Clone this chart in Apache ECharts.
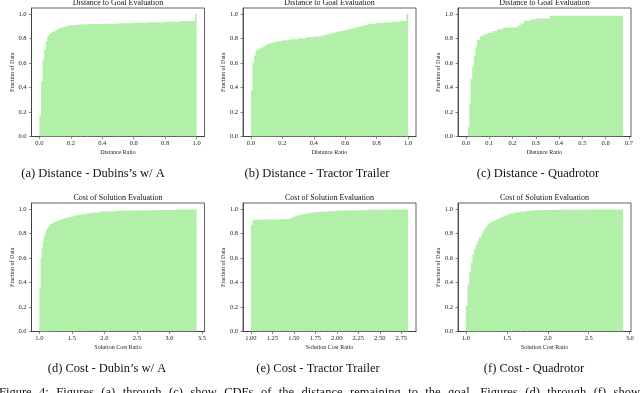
<!DOCTYPE html>
<html>
<head>
<meta charset="utf-8">
<script src="https://cdn.jsdelivr.net/npm/echarts@6/dist/echarts.min.js"></script>
<style>
html, body { margin: 0; padding: 0; background: #fff; }
#chart { width: 640px; height: 393px; }
</style>
</head>
<body>
<div id="chart"></div>
<script>
// bin edges (one more than values) and cumulative fraction per bin
const distDubinsX = [0.00, 0.01, 0.02, 0.03, 0.04, 0.05, 0.06, 0.07, 0.08, 0.09, 0.10, 0.11, 0.12, 0.13, 0.14, 0.155, 0.17, 0.185, 0.20, 0.23, 0.26, 0.30, 0.40, 0.50, 0.60, 0.70, 0.80, 0.90, 0.989, 1.00]
const distDubinsY = [0.17, 0.45, 0.63, 0.71, 0.78, 0.82, 0.835, 0.845, 0.853, 0.86, 0.867, 0.874, 0.88, 0.886, 0.891, 0.897, 0.902, 0.906, 0.91, 0.913, 0.916, 0.919, 0.922, 0.925, 0.929, 0.933, 0.938, 0.944, 1.0]

const distTractorX = [0.00, 0.01, 0.02, 0.03, 0.04, 0.05, 0.065, 0.08, 0.095, 0.11, 0.13, 0.15, 0.175, 0.20, 0.25, 0.30, 0.35, 0.40, 0.45, 0.475, 0.50, 0.525, 0.55, 0.575, 0.60, 0.625, 0.65, 0.675, 0.70, 0.725, 0.75, 0.80, 0.85, 0.90, 0.95, 0.989, 1.00]
const distTractorY = [0.38, 0.60, 0.66, 0.70, 0.71, 0.72, 0.73, 0.74, 0.75, 0.76, 0.768, 0.775, 0.78, 0.787, 0.795, 0.803, 0.81, 0.818, 0.826, 0.833, 0.841, 0.849, 0.857, 0.865, 0.873, 0.881, 0.889, 0.897, 0.905, 0.913, 0.921, 0.928, 0.933, 0.938, 0.944, 1.0]

const distQuadX = [0.008, 0.015, 0.02, 0.027, 0.034, 0.041, 0.048, 0.06, 0.075, 0.095, 0.115, 0.135, 0.16, 0.19, 0.22, 0.235, 0.25, 0.28, 0.30, 0.36, 0.675]
const distQuadY = [0.076, 0.27, 0.47, 0.57, 0.66, 0.73, 0.79, 0.82, 0.836, 0.847, 0.863, 0.877, 0.888, 0.89, 0.904, 0.925, 0.945, 0.958, 0.965, 0.986]

const costDubinsX = [1.00, 1.02, 1.035, 1.05, 1.065, 1.08, 1.10, 1.12, 1.145, 1.17, 1.20, 1.24, 1.28, 1.32, 1.37, 1.42, 1.48, 1.53, 1.58, 1.65, 1.73, 1.82, 1.93, 2.05, 2.19, 2.35, 2.55, 2.80, 3.10, 3.42]
const costDubinsY = [0.357, 0.60, 0.68, 0.73, 0.77, 0.80, 0.83, 0.85, 0.865, 0.88, 0.89, 0.90, 0.91, 0.917, 0.925, 0.933, 0.94, 0.947, 0.952, 0.96, 0.966, 0.973, 0.98, 0.983, 0.986, 0.988, 0.99, 0.993, 0.997]

const costTractorX = [1.00, 1.02, 1.10, 1.20, 1.30, 1.40, 1.44, 1.47, 1.50, 1.53, 1.56, 1.60, 1.64, 1.68, 1.73, 1.78, 1.84, 1.90, 2.00, 2.15, 2.35, 2.60, 2.83]
const costTractorY = [0.873, 0.914, 0.915, 0.916, 0.917, 0.919, 0.924, 0.932, 0.94, 0.948, 0.955, 0.961, 0.966, 0.97, 0.974, 0.978, 0.981, 0.985, 0.988, 0.991, 0.994, 0.997]

const costQuadX = [1.00, 1.02, 1.04, 1.06, 1.08, 1.10, 1.12, 1.14, 1.16, 1.19, 1.21, 1.23, 1.25, 1.27, 1.29, 1.32, 1.35, 1.38, 1.42, 1.46, 1.50, 1.54, 1.60, 1.66, 1.74, 1.82, 1.94, 2.08, 2.50, 2.92]
const costQuadY = [0.212, 0.384, 0.484, 0.566, 0.629, 0.675, 0.71, 0.74, 0.77, 0.80, 0.825, 0.845, 0.865, 0.88, 0.89, 0.90, 0.912, 0.922, 0.935, 0.947, 0.957, 0.966, 0.974, 0.98, 0.986, 0.99, 0.992, 0.994, 0.997]

// tick labels
const fracTicks = [0, 0.2, 0.4, 0.6, 0.8, 1.0]
const distTicks = [0, 0.2, 0.4, 0.6, 0.8, 1.0]
const distQuadTicks = [0, 0.1, 0.2, 0.3, 0.4, 0.5, 0.6, 0.7]
const costDubinsTicks = [1.0, 1.5, 2.0, 2.5, 3.0, 3.5]
const costTractorTicks = [1.00, 1.25, 1.50, 1.75, 2.00, 2.25, 2.50, 2.75]
const costQuadTicks = [1.0, 1.5, 2.0, 2.5, 3.0]

const captions = [
  '(a) Distance - Dubins\u2019s w/ A',
  '(b) Distance - Tractor Trailer',
  '(c) Distance - Quadrotor',
  '(d) Cost - Dubin\u2019s w/ A',
  '(e) Cost - Tractor Trailer',
  '(f) Cost - Quadrotor'
]
const figCaption = 'Figure 4: Figures (a) through (c) show CDFs of the distance remaining to the goal. Figures (d) through (f) show'

const SERIF = '"Liberation Serif", "DejaVu Serif", serif'
const GREEN = '#b2f0a9'
const FRAME = '#3a3a3a'

// one item per histogram bin: [left edge, right edge, cumulative fraction]
function bins(xs, ys) {
  return ys.map((y, i) => [xs[i], xs[i + 1], y])
}

function renderBin(params, api) {
  const topLeft = api.coord([api.value(0), api.value(2)])
  const bottomRight = api.coord([api.value(1), 0])
  const last = params.dataIndex === params.dataInsideLength - 1
  return {
    type: 'rect',
    shape: {
      x: topLeft[0],
      y: topLeft[1],
      // overlap the next bin a little so no seam shows between them
      width: bottomRight[0] - topLeft[0] + (last ? 0 : 1.2),
      height: bottomRight[1] - topLeft[1]
    },
    style: { fill: GREEN }
  }
}

const panels = [
  { left: 31.5, top: 8, xs: distDubinsX, ys: distDubinsY, min: -0.05, max: 1.05, ticks: distTicks, dec: 1, title: 'Distance to Goal Evaluation', xName: 'Distance Ratio', cap: 93 },
  { left: 243, top: 8, xs: distTractorX, ys: distTractorY, min: -0.05, max: 1.05, ticks: distTicks, dec: 1, title: 'Distance to Goal Evaluation', xName: 'Distance Ratio', cap: 317 },
  { left: 458, top: 8, xs: distQuadX, ys: distQuadY, min: -0.034, max: 0.709, ticks: distQuadTicks, dec: 1, title: 'Distance to Goal Evaluation', xName: 'Distance Ratio', cap: 538 },
  { left: 31.5, top: 203, xs: costDubinsX, ys: costDubinsY, min: 0.879, max: 3.541, ticks: costDubinsTicks, dec: 1, title: 'Cost of Solution Evaluation', xName: 'Solution Cost Ratio', cap: 107 },
  { left: 243, top: 203, xs: costTractorX, ys: costTractorY, min: 0.9085, max: 2.9215, ticks: costTractorTicks, dec: 2, title: 'Cost of Solution Evaluation', xName: 'Solution Cost Ratio', cap: 318 },
  { left: 458, top: 203, xs: costQuadX, ys: costQuadY, min: 0.904, max: 3.016, ticks: costQuadTicks, dec: 1, title: 'Cost of Solution Evaluation', xName: 'Solution Cost Ratio', cap: 534 }
]

const W = 173
const H = 128.5
const small = { fontFamily: SERIF, color: '#222' }

const chart = echarts.init(document.getElementById('chart'), null, { renderer: 'canvas' })

const graphic = []
panels.forEach((p, i) => {
  graphic.push({
    type: 'text', x: p.left + W / 2, y: p.top - 5,
    style: { text: p.title, font: '8px ' + SERIF, fill: '#111', align: 'center', verticalAlign: 'middle' }
  })
  graphic.push({
    type: 'text', x: p.cap, y: p.top + 166,
    style: { text: captions[i], font: '12.5px ' + SERIF, fill: '#111', align: 'center', verticalAlign: 'middle' }
  })
})

// the figure caption is justified in the source, so spread its words over the full width
const capFont = '12.5px ' + SERIF
const ctx = document.createElement('canvas').getContext('2d')
ctx.font = capFont
const words = figCaption.split(' ')
const widths = words.map(w => ctx.measureText(w).width)
const gap = (641 - widths.reduce((a, b) => a + b, 0)) / (words.length - 1)
let cx = -1
words.forEach((w, i) => {
  graphic.push({
    type: 'text', x: cx, y: 393,
    style: { text: w, font: capFont, fill: '#111', align: 'left', verticalAlign: 'middle' }
  })
  cx += widths[i] + gap
})

const option = {
  animation: false,
  backgroundColor: '#fff',
  grid: panels.map(p => ({
    left: p.left, top: p.top, width: W, height: H,
    show: true, borderColor: FRAME, borderWidth: 0.8, backgroundColor: 'transparent'
  })),
  xAxis: panels.map((p, i) => ({
    type: 'value', gridIndex: i, min: p.min, max: p.max,
    splitLine: { show: false },
    axisLine: { show: true, onZero: false, lineStyle: { color: FRAME, width: 0.8 } },
    axisTick: { show: true, customValues: p.ticks, length: 2.5, lineStyle: { color: FRAME, width: 0.6 } },
    axisLabel: { customValues: p.ticks, formatter: v => v.toFixed(p.dec), fontSize: 6.5, margin: 3, ...small },
    name: p.xName, nameLocation: 'middle', nameGap: 12.5, nameMoveOverlap: false,
    nameTextStyle: { fontSize: 6, ...small }
  })),
  yAxis: panels.map((p, i) => ({
    type: 'value', gridIndex: i, min: 0, max: 1.05,
    splitLine: { show: false },
    axisLine: { show: true, onZero: false, lineStyle: { color: FRAME, width: 0.8 } },
    axisTick: { show: true, customValues: fracTicks, length: 2.5, lineStyle: { color: FRAME, width: 0.6 } },
    axisLabel: { customValues: fracTicks, formatter: v => v.toFixed(1), fontSize: 6.5, margin: 5, ...small },
    name: 'Fraction of Data', nameLocation: 'middle', nameGap: 16.5, nameRotate: 90, nameMoveOverlap: false,
    nameTextStyle: { fontSize: 6, ...small }
  })),
  series: panels.map((p, i) => ({
    type: 'custom', xAxisIndex: i, yAxisIndex: i,
    renderItem: renderBin,
    encode: { x: [0, 1], y: 2 },
    clip: true,
    data: bins(p.xs, p.ys)
  })),
  graphic
}

chart.setOption(option)
</script>
</body>
</html>
